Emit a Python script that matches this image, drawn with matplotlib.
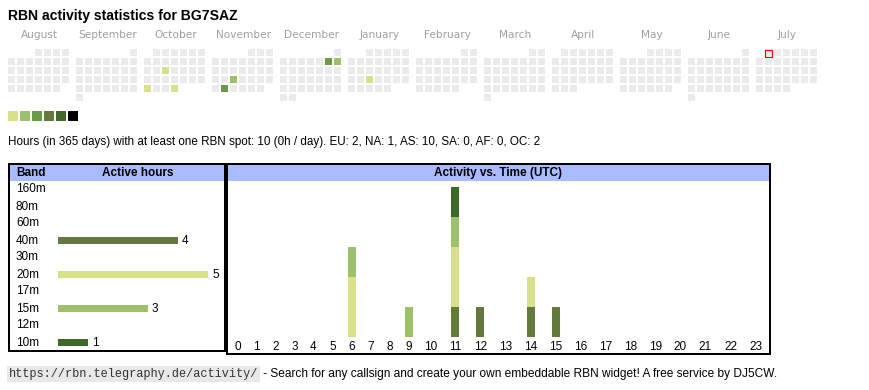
import numpy as np
import matplotlib
matplotlib.use('Agg')
import matplotlib.pyplot as plt
from matplotlib.patches import Rectangle
from matplotlib.transforms import blended_transform_factory
from datetime import date, timedelta

plt.rcParams['font.family'] = ['Liberation Sans', 'DejaVu Sans']

# ---- data ----
callsign = 'BG7SAZ'
months = ['August', 'September', 'October', 'November', 'December', 'January',
          'February', 'March', 'April', 'May', 'June', 'July']
first_day = date(2024, 8, 1)
last_day = date(2025, 7, 31)
today = date(2025, 7, 1)
active_days = ['2024-10-16', '2024-10-28', '2024-10-31', '2024-11-20',
               '2024-11-26', '2024-12-07', '2024-12-08', '2025-01-22']
active_levels = [1, 1, 1, 2, 3, 3, 2, 1]
level_colors = ['#ebebeb', '#d9e08a', '#9dc06a', '#6a9c45', '#647a3a', '#3d6a28', '#000000']

bands = ['160m', '80m', '60m', '40m', '30m', '20m', '17m', '15m', '12m', '10m']
band_colors = ['#000000', '#3d6a28', '#6a9c45', '#647a3a', '#6a9c45',
               '#d9e08a', '#3d6a28', '#9dc06a', '#647a3a', '#3d6a28']
hours = [str(h) for h in range(24)]
# active hours per UTC hour, per band (bands not listed are zero)
act_40m = [0, 0, 0, 0, 0, 0, 0, 0, 0, 0, 0, 1, 1, 0, 1, 1, 0, 0, 0, 0, 0, 0, 0, 0]
act_20m = [0, 0, 0, 0, 0, 0, 2, 0, 0, 0, 0, 2, 0, 0, 1, 0, 0, 0, 0, 0, 0, 0, 0, 0]
act_15m = [0, 0, 0, 0, 0, 0, 1, 0, 0, 1, 0, 1, 0, 0, 0, 0, 0, 0, 0, 0, 0, 0, 0, 0]
act_10m = [0, 0, 0, 0, 0, 0, 0, 0, 0, 0, 0, 1, 0, 0, 0, 0, 0, 0, 0, 0, 0, 0, 0, 0]
band_activity = {'40m': act_40m, '20m': act_20m, '15m': act_15m, '10m': act_10m}

total_hours = 10
continents = ['EU', 'NA', 'AS', 'SA', 'AF', 'OC']
continent_hours = [2, 1, 10, 0, 0, 2]

W, H = 870, 390
fig = plt.figure(figsize=(W / 100, H / 100), dpi=100)
bg = fig.add_axes([0, 0, 1, 1])
bg.set_xlim(0, W)
bg.set_ylim(H, 0)
bg.axis('off')


def px_axes(x0, y0, x1, y1):
    ax = fig.add_axes([x0 / W, 1 - y1 / H, (x1 - x0) / W, (y1 - y0) / H])
    ax.axis('off')
    return ax


def pt(px):
    return px * 0.72


# ---- title ----
bg.text(8, 16, 'RBN activity statistics for ' + callsign, fontsize=pt(14),
        fontweight='bold', va='center', ha='left')

# ---- calendar ----
cal_x0, cal_y0, block, cell, step = 8, 49, 68, 7, 9
levels = {date.fromisoformat(d): l for d, l in zip(active_days, active_levels)}
for m, name in enumerate(months):
    bg.text(cal_x0 + m * block + 31.5, 35, name, fontsize=pt(10.5), color='#a0a0a0',
            ha='center', va='center', family='DejaVu Sans')
d = first_day
m = 0
cur_month = d.month
while d <= last_day:
    if d.month != cur_month:
        m += 1
        cur_month = d.month
    start_wd = d.replace(day=1).weekday()
    row = (d.day - 1 + start_wd) // 7
    col = d.weekday()
    x = cal_x0 + m * block + col * step
    y = cal_y0 + row * step
    bg.add_patch(Rectangle((x, y), cell, cell, facecolor=level_colors[levels.get(d, 0)],
                           edgecolor='none'))
    if d == today:
        bg.add_patch(Rectangle((x + 0.5, y + 0.5), cell, cell, facecolor='none',
                               edgecolor='#ee0000', linewidth=pt(1.2)))
    d += timedelta(days=1)

# legend of levels
for i, c in enumerate(level_colors[1:]):
    bg.add_patch(Rectangle((8 + i * 12, 111), 10, 10, facecolor=c, edgecolor='none'))

summary = 'Hours (in 365 days) with at least one RBN spot: %d (%dh / day). ' % (
    total_hours, total_hours // 365)
summary += ', '.join('%s: %d' % (c, v) for c, v in zip(continents, continent_hours))
bg.text(8, 142, summary, fontsize=pt(11.6), va='center', ha='left')

# ---- boxes ----
hdr = '#aabbff'
bg.add_patch(Rectangle((10, 165), 214, 16, facecolor=hdr, edgecolor='none'))
bg.add_patch(Rectangle((228, 165), 541, 16, facecolor=hdr, edgecolor='none'))
bg.add_patch(Rectangle((9, 164), 216, 187, facecolor='none', edgecolor='black',
                       linewidth=pt(2)))
bg.add_patch(Rectangle((227, 164), 543, 190, facecolor='none', edgecolor='black',
                       linewidth=pt(2)))
bg.text(16, 173, 'Band', fontsize=pt(11.8), fontweight='bold', va='center')
bg.text(138, 173, 'Active hours', fontsize=pt(11.8), fontweight='bold',
        va='center', ha='center')
bg.text(498, 173, 'Activity vs. Time (UTC)', fontsize=pt(11.8), fontweight='bold',
        va='center', ha='center')

# ---- band table ----
band_totals = [sum(band_activity.get(b, [0] * 24)) for b in bands]
px_per_hour = 30
ax_b = px_axes(58, 181, 218, 351)
ax_b.set_xlim(0, 160 / px_per_hour)
ax_b.set_ylim(len(bands) - 0.5, -0.5)
yy = np.arange(len(bands))
ax_b.barh(yy, band_totals, height=7 / 17, color=band_colors)
tr_b = blended_transform_factory(bg.transData, ax_b.transData)
for i, (b, v) in enumerate(zip(bands, band_totals)):
    bg.text(16, i, b, fontsize=pt(11.8), va='center', ha='left', transform=tr_b)
    if v > 0:
        ax_b.text(v + 4 / px_per_hour, i, str(v), fontsize=pt(11.8), va='center',
                  ha='left', clip_on=False)

# ---- activity vs time ----
col_w = np.array([13 + 6 * len(h) for h in hours], dtype=float)
centers = np.cumsum(col_w) - col_w / 2
ax_t = px_axes(228, 181, 769, 337)
ax_t.set_xlim(0, 541)
ax_t.set_ylim(0, 156 / px_per_hour)
bottom = np.zeros(24)
for b, c in zip(bands, band_colors):
    if b in band_activity:
        vals = np.array(band_activity[b])
        ax_t.bar(centers, vals, width=8, bottom=bottom, color=c)
        bottom += vals
tr_t = blended_transform_factory(ax_t.transData, bg.transData)
for x, h in zip(centers, hours):
    bg.text(x, 346.5, h, fontsize=pt(11.8), ha='center', va='center', transform=tr_t)

# ---- footer ----
bg.text(9, 374, 'https://rbn.telegraphy.de/activity/', fontsize=pt(11.9),
        family='Liberation Mono', color='#333333', va='center', ha='left',
        bbox=dict(facecolor='#e8e8e8', edgecolor='none', pad=1.2))
bg.text(260, 374, ' - Search for any callsign and create your own embeddable RBN widget! '
        'A free service by DJ5CW.', fontsize=pt(11.9), va='center', ha='left')

fig.savefig('out.png', dpi=100)
